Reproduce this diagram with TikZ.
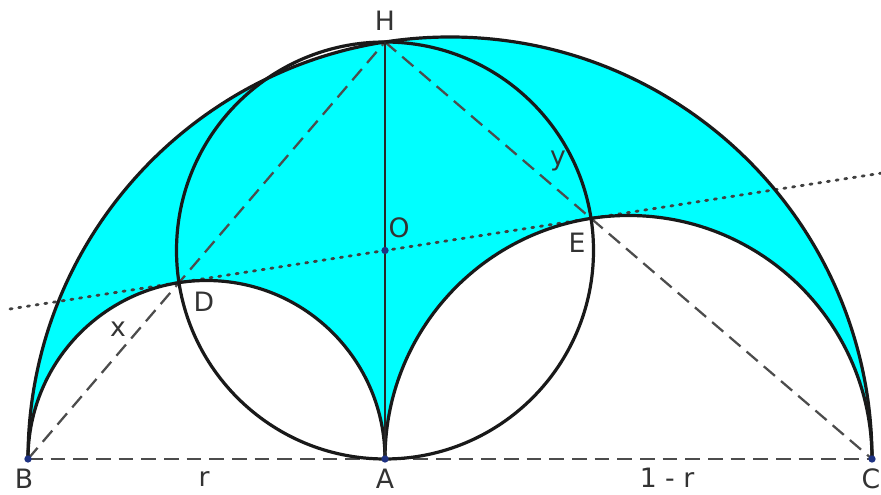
\documentclass[tikz,border=0pt]{standalone}
\usepackage{fontspec}
\setmainfont{DejaVu Sans}
\definecolor{arbcyan}{RGB}{0,255,255}
\definecolor{ptblue}{RGB}{30,50,130}
\begin{document}
\begin{tikzpicture}[x=0.75pt,y=0.75pt,
  lbl/.style={text=black!80,font=\fontsize{20}{24}\selectfont,inner sep=0pt},
  solidline/.style={line width=2.4pt,black!90},
  dashline/.style={line width=1.7pt,black!70,dash pattern=on 11pt off 6pt},
  dotline/.style={line width=2.1pt,black!75,dash pattern=on 1.6pt off 5pt,line cap=round},
  pt/.style={circle,fill=ptblue,inner sep=0pt,minimum size=5.5pt}]
\useasboundingbox (0,0) rectangle (881,495);
\coordinate (B) at (28,36);
\coordinate (A) at (385,36);
\coordinate (C) at (872,36);
\coordinate (H) at (385,453);
\coordinate (O) at (385,244.5);
\coordinate (D) at (178.99,212.37);
\coordinate (E) at (591.02,276.6);
\coordinate (L1) at (10,186.03);
\coordinate (L2) at (881,321.8);
% arbelos fill
\fill[arbcyan] (B) arc[start angle=180,end angle=0,radius=422]
  arc[start angle=0,end angle=180,radius=243.5]
  arc[start angle=0,end angle=180,radius=178.5] -- cycle;
% dashed and dotted lines
\draw[dashline] (B) -- (C);
\draw[dashline] (B) -- (D) -- (H);
\draw[dashline] (H) -- (E) -- (C);
\draw[dotline] (L1) -- (L2);
% arcs and circle
\draw[solidline] (B) arc[start angle=180,end angle=0,radius=422];
\draw[solidline] (C) arc[start angle=0,end angle=180,radius=243.5];
\draw[solidline] (A) arc[start angle=0,end angle=180,radius=178.5];
\draw[solidline] (O) circle[radius=208.5];
\draw[line width=1.8pt,black!85] (H) -- (A);
% points
\node[pt] (pB) at (B) {};
\node[pt] (pA) at (A) {};
\node[pt] (pC) at (C) {};
\node[pt] (pO) at (O) {};
% labels
\node[lbl] (tH) at (385,474) {H};
\node[lbl] (tO) at (399,267) {O};
\node[lbl] (tD) at (204,193) {D};
\node[lbl] (tE) at (577,252) {E};
\node[lbl] (tx) at (118,166) {x};
\node[lbl] (ty) at (558,334) {y};
\node[lbl] (tB) at (24,16) {B};
\node[lbl] (tA) at (385,16) {A};
\node[lbl] (tC) at (871,16) {C};
\node[lbl] (tr) at (204,16) {r};
\node[lbl] (t1r) at (667,17) {1 - r};
\end{tikzpicture}
\end{document}
